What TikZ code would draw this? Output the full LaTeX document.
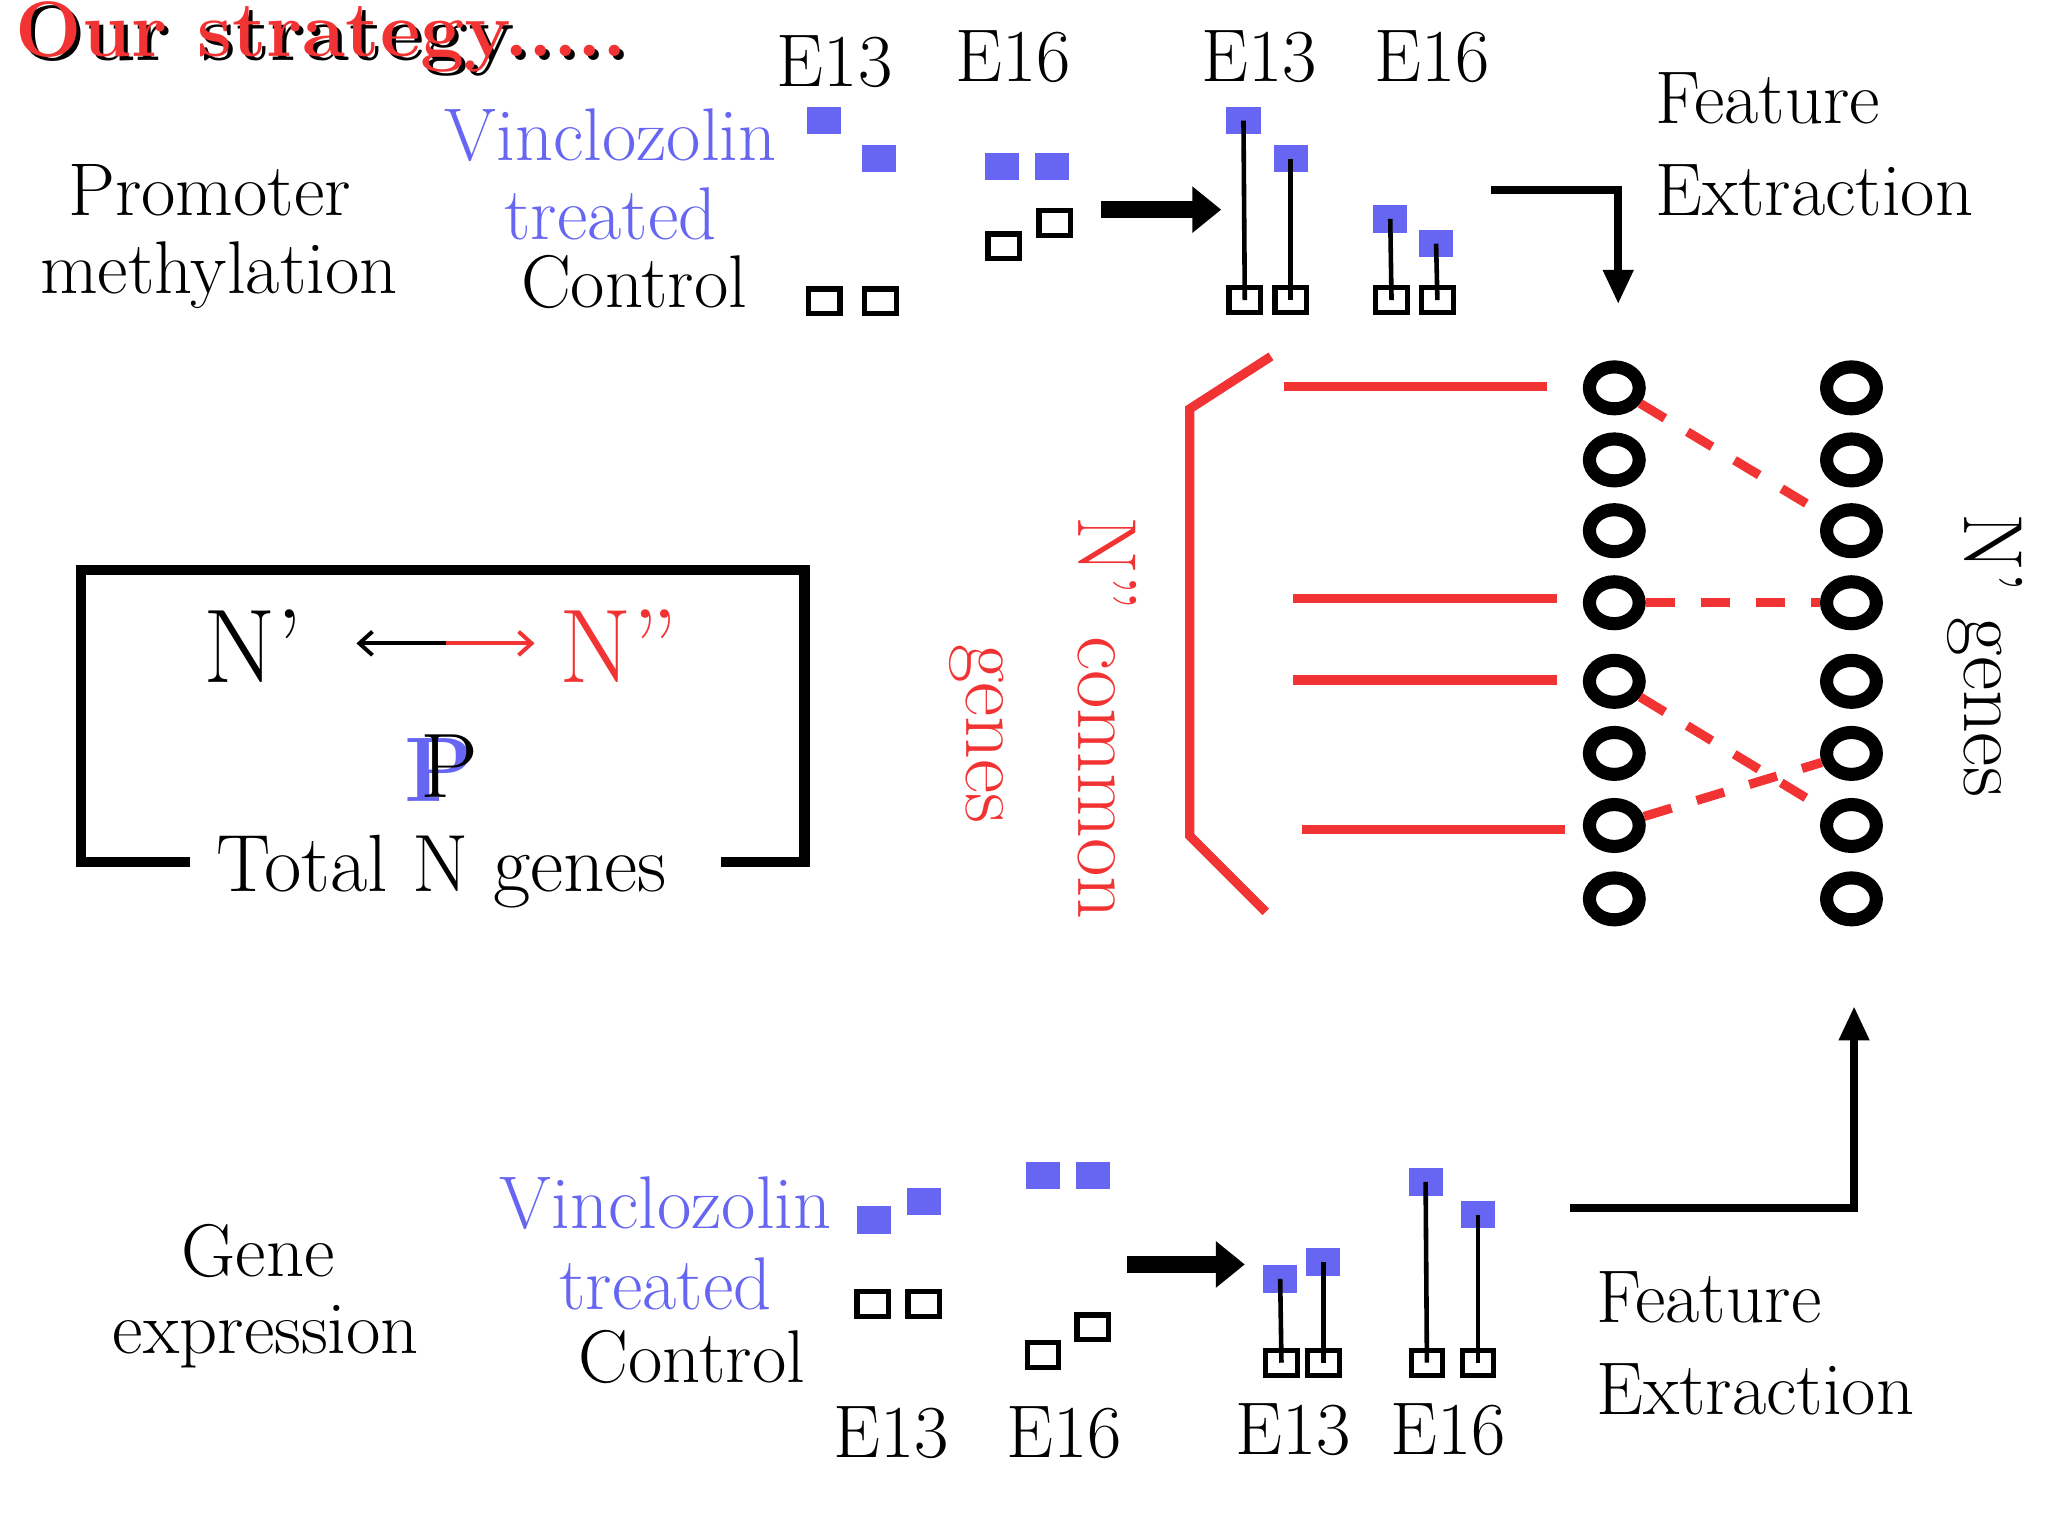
\documentclass[tikz,border=0pt]{standalone}
\usetikzlibrary{arrows.meta,shapes.geometric}
\definecolor{vb}{HTML}{6666F2}
\definecolor{rr}{HTML}{F23333}
\begin{document}
\begin{tikzpicture}[x=1pt,y=-1pt,
  txt/.style={font=\fontsize{57}{60}\selectfont,inner sep=0pt},
  bsq/.style={fill=vb,minimum width=26pt,minimum height=21pt,inner sep=0pt},
  hsq/.style={draw=black,line width=4pt,minimum width=24pt,minimum height=19pt,inner sep=0pt},
  gen/.style={draw=black,line width=10pt,ellipse,minimum width=38pt,minimum height=32pt,inner sep=0pt},
  rl/.style={draw=rr,line width=7pt},
  rd/.style={draw=rr,line width=7pt,dash pattern=on 22pt off 20pt},
  bigarr/.style={line width=13pt,-{Triangle[length=22pt,width=34pt]}},
  elb/.style={line width=6pt,-{Triangle[length=26pt,width=22pt]}},
  stem/.style={line width=3.5pt}]
\useasboundingbox (0,0) rectangle (1563,1171.5);
% title
\node[font=\fontsize{60}{64}\selectfont\bfseries,text=black,anchor=west,inner sep=0pt] at (15,31) {Our strategy.....};
\node[font=\fontsize{60}{64}\selectfont\bfseries,text=rr,anchor=west,inner sep=0pt] (title) at (12,28) {Our strategy.....};
% top labels
\node[txt] (pm1) at (160,145) {Promoter};
\node[txt] (pm2) at (167,210) {methylation};
\node[txt,text=vb] (v1) at (466,103) {Vinclozolin};
\node[txt,text=vb] (v2) at (466,163) {treated};
\node[txt] (c1) at (484,215) {Control};
\node[txt] (te1) at (637,47) {E13};
\node[txt] (te2) at (773,43) {E16};
\node[txt] (te3) at (961,43) {E13};
\node[txt] (te4) at (1093,43) {E16};
\node[txt,anchor=west] (fe1) at (1263,75) {Feature};
\node[txt,anchor=west] (fe2) at (1263,145) {Extraction};
% top squares
\node[bsq] (a1) at (629,92) {}; \node[bsq] (a2) at (671,121) {};
\node[hsq] (a3) at (629,230) {}; \node[hsq] (a4) at (672,230) {};
\node[bsq] (b1) at (765,127) {}; \node[bsq] (b2) at (803,127) {};
\node[hsq] (b3) at (766,188) {}; \node[hsq] (b4) at (805,170) {};
\node[bsq] (c1b) at (949,92) {}; \node[bsq] (c2b) at (985,121) {};
\node[hsq] (c3) at (950,229) {}; \node[hsq] (c4) at (985,229) {};
\node[bsq] (d1) at (1061,167) {}; \node[bsq] (d2) at (1096,186) {};
\node[hsq] (d3) at (1062,229) {}; \node[hsq] (d4) at (1097,229) {};
\draw[stem] (c1b.center) -- (c3.center); \draw[stem] (c2b.center) -- (c4.center);
\draw[stem] (d1.center) -- (d3.center); \draw[stem] (d2.center) -- (d4.center);
\coordinate (ta1) at (840,160); \coordinate (ta2) at (932,160);
\draw[bigarr] (ta1) -- (ta2);
\coordinate (te0) at (1138,145); \coordinate (tee) at (1235,232);
\draw[elb] (te0) -| (tee);
% gene columns
\foreach \i/\y in {1/296,2/351,3/405,4/460,5/520,6/575,7/630,8/686}{
  \node[gen] (L\i) at (1232,\y) {};
  \node[gen] (R\i) at (1413,\y) {};
}
% red solid lines
\draw[rl] (980,295) -- (1181,295);
\draw[rl] (987,457) -- (1188,457);
\draw[rl] (987,519) -- (1188,519);
\draw[rl] (994,633) -- (1194,633);
\draw[rl] (970,272) -- (908,312) -- (908,638) -- (966,696);
% red dashed
\draw[rd] (L1) -- (R3);
\draw[rd] (L4) -- (R4);
\draw[rd] (L5) -- (R7);
\draw[rd] (L7) -- (R6);
% rotated labels
\node[font=\fontsize{64}{66}\selectfont,inner sep=0pt,text=rr,rotate=-90] (nc1) at (845,548) {N'' common};
\node[font=\fontsize{64}{66}\selectfont,inner sep=0pt,text=rr,rotate=-90] (nc2) at (745,560) {genes};
\node[font=\fontsize{64}{66}\selectfont,inner sep=0pt,rotate=-90] (ng) at (1515,500) {N' genes};
% box
\draw[line width=8pt] (145,658) -- (62,658) -- (62,435) -- (614,435) -- (614,658) -- (550,658);
\node[font=\fontsize{80}{80}\selectfont,inner sep=0pt] (n1) at (193,493) {N'};
\node[font=\fontsize{80}{80}\selectfont,inner sep=0pt,text=rr] (n2) at (472,493) {N''};
\coordinate (am) at (340,491);
\draw[line width=3pt,-{Straight Barb[length=10pt,width=18pt]}] (am) -- (272,491);
\draw[line width=3pt,rr,-{Straight Barb[length=10pt,width=18pt]}] (am) -- (408,491);
\node[font=\fontsize{70}{70}\selectfont\bfseries,text=vb,inner sep=0pt] (p1) at (336,588) {P};
\node[font=\fontsize{70}{70}\selectfont,inner sep=0pt] (p2) at (343,585) {P};
\node[font=\fontsize{62}{64}\selectfont,inner sep=0pt] (tn) at (337,665) {Total N genes};
% bottom labels
\node[txt] (g1) at (197,955) {Gene};
\node[txt] (g2) at (203,1020) {expression};
\node[txt,text=vb] (bv1) at (508,918) {Vinclozolin};
\node[txt,text=vb] (bv2) at (508,980) {treated};
\node[txt] (bc) at (528,1036) {Control};
\node[txt] (be1) at (680,1093) {E13};
\node[txt] (be2) at (812,1093) {E16};
\node[txt] (be3) at (987,1091) {E13};
\node[txt] (be4) at (1105,1091) {E16};
\node[txt,anchor=west] (bf1) at (1218,990) {Feature};
\node[txt,anchor=west] (bf2) at (1218,1060) {Extraction};
% bottom squares
\node[bsq] (e1) at (667,931) {}; \node[bsq] (e2) at (705,917) {};
\node[hsq] (e3) at (666,995) {}; \node[hsq] (e4) at (705,995) {};
\node[bsq] (f1) at (796,897) {}; \node[bsq] (f2) at (834,897) {};
\node[hsq] (f3) at (796,1034) {}; \node[hsq] (f4) at (834,1013) {};
\node[bsq] (h1) at (977,976) {}; \node[bsq] (h2) at (1010,963) {};
\node[hsq] (h3) at (978,1040) {}; \node[hsq] (h4) at (1010,1040) {};
\node[bsq] (k1) at (1088,902) {}; \node[bsq] (k2) at (1128,927) {};
\node[hsq] (k3) at (1089,1040) {}; \node[hsq] (k4) at (1128,1040) {};
\draw[stem] (h1.center) -- (h3.center); \draw[stem] (h2.center) -- (h4.center);
\draw[stem] (k1.center) -- (k3.center); \draw[stem] (k2.center) -- (k4.center);
\coordinate (ba1) at (860,965); \coordinate (ba2) at (950,965);
\draw[bigarr] (ba1) -- (ba2);
\coordinate (be0) at (1198,922); \coordinate (bee) at (1415,768);
\draw[elb] (be0) -| (bee);
\end{tikzpicture}
\end{document}
